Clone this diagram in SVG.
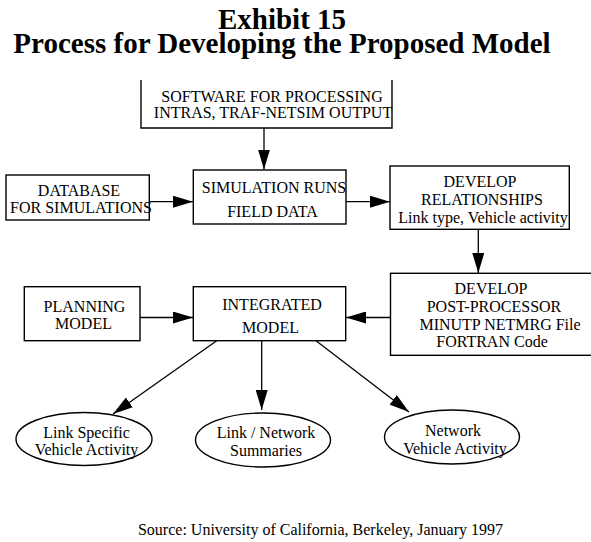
<svg xmlns="http://www.w3.org/2000/svg" width="591" height="542" viewBox="0 0 591 542">
  <style>
    .box { fill: none; stroke: #000; stroke-width: 1.4; }
    .edge { fill: none; stroke: #000; stroke-width: 1.3; }
    .lbl { font-family: "Liberation Serif", "Times New Roman", serif; font-size: 16px; fill: #000; text-anchor: middle; }
    .title { font-family: "Liberation Serif", "Times New Roman", serif; font-size: 29px; font-weight: bold; fill: #000; text-anchor: middle; }
  </style>
  <defs>
    <marker id="arrow" markerUnits="userSpaceOnUse" markerWidth="20" markerHeight="12" refX="20" refY="6" orient="auto">
      <path d="M0,0 L20,6 L0,12 z" fill="#000"/>
    </marker>
  </defs>
  <rect width="591" height="542" fill="#fff"/>

  <g id="title">
    <text class="title"><tspan x="282" y="29">Exhibit 15</tspan><tspan x="282" y="53">Process for Developing the Proposed Model</tspan></text>
  </g>

  <g id="software">
    <path class="box" d="M141,80 V128 H392 V80"/>
    <text class="lbl" x="272" y="102">SOFTWARE FOR PROCESSING</text>
    <text class="lbl" x="273" y="118">INTRAS, TRAF-NETSIM OUTPUT</text>
  </g>

  <g id="database">
    <rect class="box" x="6" y="175" width="143.3" height="45"/>
    <text class="lbl" x="79" y="196">DATABASE</text>
    <text class="lbl" x="81" y="213">FOR SIMULATIONS</text>
  </g>

  <g id="simulation">
    <rect class="box" x="193.3" y="170" width="152.7" height="54"/>
    <text class="lbl" x="274" y="193">SIMULATION RUNS</text>
    <text class="lbl" x="272.5" y="216.5">FIELD DATA</text>
  </g>

  <g id="relationships">
    <rect class="box" x="390" y="166" width="179.3" height="63.3"/>
    <text class="lbl" x="480" y="187">DEVELOP</text>
    <text class="lbl" x="482" y="205">RELATIONSHIPS</text>
    <text class="lbl" x="483" y="222.5">Link type, Vehicle activity</text>
  </g>

  <g id="postprocessor">
    <rect class="box" x="390.5" y="273.3" width="210" height="82"/>
    <text class="lbl" x="491" y="294">DEVELOP</text>
    <text class="lbl" x="494" y="311.5">POST-PROCESSOR</text>
    <text class="lbl" x="500" y="330">MINUTP NETMRG File</text>
    <text class="lbl" x="492" y="346.5">FORTRAN Code</text>
  </g>

  <g id="planning">
    <rect class="box" x="24.3" y="286.7" width="115.7" height="54"/>
    <text class="lbl" x="84.5" y="311.5">PLANNING</text>
    <text class="lbl" x="83.5" y="329.3">MODEL</text>
  </g>

  <g id="integrated">
    <rect class="box" x="193.3" y="286.7" width="152.4" height="54"/>
    <text class="lbl" x="272" y="310">INTEGRATED</text>
    <text class="lbl" x="270.5" y="333.3">MODEL</text>
  </g>

  <g id="link-specific">
    <ellipse class="box" cx="84" cy="439" rx="68" ry="26.5"/>
    <text class="lbl" x="86.5" y="437.5">Link Specific</text>
    <text class="lbl" x="86.5" y="455">Vehicle Activity</text>
  </g>

  <g id="summaries">
    <ellipse class="box" cx="263" cy="440" rx="67.5" ry="27"/>
    <text class="lbl" x="266" y="438.3">Link / Network</text>
    <text class="lbl" x="266" y="456">Summaries</text>
  </g>

  <g id="network-activity">
    <ellipse class="box" cx="452" cy="437" rx="67.5" ry="27"/>
    <text class="lbl" x="453" y="436">Network</text>
    <text class="lbl" x="455" y="454">Vehicle Activity</text>
  </g>

  <g id="connectors">
    <line class="edge" x1="264" y1="128" x2="264" y2="169.5" marker-end="url(#arrow)"/>
    <line class="edge" x1="149.3" y1="201.7" x2="193" y2="201.7" marker-end="url(#arrow)"/>
    <line class="edge" x1="346" y1="201.7" x2="390" y2="201.7" marker-end="url(#arrow)"/>
    <line class="edge" x1="478.3" y1="229.3" x2="478.3" y2="273" marker-end="url(#arrow)"/>
    <line class="edge" x1="390.5" y1="317.5" x2="346" y2="317.5" marker-end="url(#arrow)"/>
    <line class="edge" x1="140" y1="317.5" x2="193" y2="317.5" marker-end="url(#arrow)"/>
    <line class="edge" x1="216.7" y1="340.7" x2="113" y2="414" marker-end="url(#arrow)"/>
    <line class="edge" x1="261.7" y1="340.7" x2="261.7" y2="410" marker-end="url(#arrow)"/>
    <line class="edge" x1="316" y1="340.7" x2="409" y2="412" marker-end="url(#arrow)"/>
  </g>

  <g id="source">
    <text class="lbl" x="320.5" y="535">Source: University of California, Berkeley, January 1997</text>
  </g>
</svg>
